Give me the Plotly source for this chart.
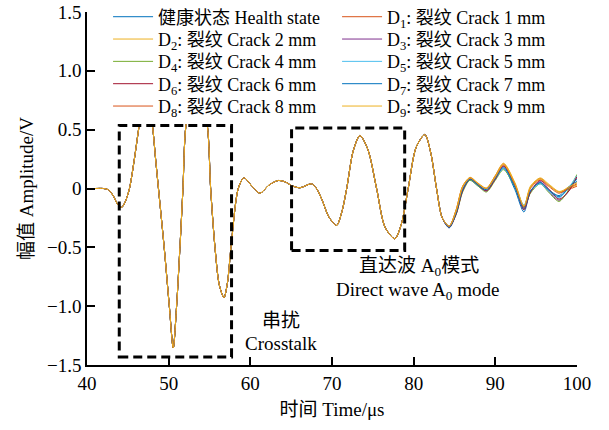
import plotly.graph_objects as go

# ---- data ----
t_common = [40, 41, 42, 42.6, 43.2, 43.8, 44.25, 44.7, 45.2, 45.8, 46.4, 47.2, 48.0, 48.4,
            48.75, 49.45, 50.08, 50.56, 50.97, 51.38, 51.75, 52.12, 53.4, 54.73, 55.14,
            55.67, 56.2, 56.77, 57.2, 57.63, 58.52, 59.22, 60.2, 61.17, 62.3, 63.42, 64.3,
            65.05, 66.07, 67.5, 68.1, 68.8, 69.6, 70.56, 71.2, 71.8, 72.6, 73.42, 74.4,
            75.46, 76.5, 77.7, 78.5, 79.33, 80.3, 81.37, 82.1, 82.8, 83.5]
v_common = [0, 0, 0, -0.01, -0.06, -0.14, -0.16, -0.11, 0.0, 0.25, 0.54, 0.85, 0.54, 0.25,
            0.0, -0.5, -1.0, -1.355, -1.0, -0.5, 0.0, 0.54, 1.0, 0.54, 0.0,
            -0.5, -0.82, -0.928, -0.80, -0.5, 0.0, 0.091, 0.02, -0.04, 0.03, 0.068, 0.055,
            0.025, 0.006, 0.04, 0.0, -0.1, -0.24, -0.314, -0.2, 0.0, 0.32, 0.45, 0.33,
            0.0, -0.33, -0.427, -0.3, 0.0, 0.35, 0.458, 0.3, 0.0, -0.25]

t_tail = [84.35, 85.2, 86.0, 86.9, 87.9, 88.9, 90.0, 91.0, 92.4, 93.5, 94.3, 95.5, 96.5, 97.8, 98.9, 100.0]
tail_health = [-0.335, -0.21, -0.01, 0.07, 0.02, -0.02, 0.08, 0.17, -0.01, -0.20, -0.03, 0.05, -0.01, -0.06, 0.01, 0.06]
tail_d1 = [-0.32, -0.18, 0.02, 0.09, 0.04, 0.0, 0.11, 0.21, 0.04, -0.16, 0.01, 0.085, 0.03, -0.03, -0.01, 0.02]
tail_d2 = [-0.32, -0.18, 0.02, 0.095, 0.045, 0.005, 0.11, 0.215, 0.05, -0.15, 0.02, 0.09, 0.04, -0.025, 0.0, 0.03]
tail_d3 = [-0.33, -0.21, -0.02, 0.08, 0.03, -0.02, 0.08, 0.19, 0.02, -0.18, -0.03, 0.06, -0.02, -0.10, -0.03, 0.10]
tail_d4 = [-0.32, -0.22, -0.03, 0.07, 0.02, -0.03, 0.07, 0.16, 0.01, -0.16, -0.04, 0.04, -0.03, -0.11, -0.02, 0.12]
tail_d5 = [-0.32, -0.2, -0.01, 0.08, 0.03, -0.01, 0.08, 0.17, 0.02, -0.14, -0.02, 0.04, -0.02, -0.08, 0.0, 0.11]
tail_d6 = [-0.33, -0.22, -0.02, 0.08, 0.03, -0.02, 0.08, 0.19, 0.03, -0.18, -0.03, 0.07, 0.0, -0.09, -0.03, 0.10]
tail_d7 = [-0.33, -0.21, -0.01, 0.08, 0.03, -0.01, 0.09, 0.18, 0.01, -0.17, -0.02, 0.05, -0.01, -0.07, 0.0, 0.08]
tail_d8 = [-0.32, -0.19, 0.01, 0.09, 0.04, 0.0, 0.10, 0.20, 0.03, -0.16, 0.0, 0.075, 0.02, -0.04, 0.0, 0.04]
tail_d9 = [-0.32, -0.19, 0.015, 0.09, 0.04, 0.0, 0.10, 0.205, 0.04, -0.15, 0.01, 0.08, 0.03, -0.03, 0.01, 0.05]

names = ["健康状态 Health state",
         "D<sub>1</sub>: 裂纹 Crack 1 mm", "D<sub>2</sub>: 裂纹 Crack 2 mm",
         "D<sub>3</sub>: 裂纹 Crack 3 mm", "D<sub>4</sub>: 裂纹 Crack 4 mm",
         "D<sub>5</sub>: 裂纹 Crack 5 mm", "D<sub>6</sub>: 裂纹 Crack 6 mm",
         "D<sub>7</sub>: 裂纹 Crack 7 mm", "D<sub>8</sub>: 裂纹 Crack 8 mm",
         "D<sub>9</sub>: 裂纹 Crack 9 mm"]
tails = [tail_health, tail_d1, tail_d2, tail_d3, tail_d4, tail_d5, tail_d6, tail_d7, tail_d8, tail_d9]
colors = ["#0072BD", "#D95319", "#EDB120", "#7E2F8E", "#77AC30",
          "#4DBEEE", "#A2142F", "#0072BD", "#D95319", "#EDB120"]

y_tickvals = [-1.5, -1.0, -0.5, 0, 0.5, 1.0, 1.5]
y_ticktext = ["−1.5", "−1.0", "−0.5", "0", "0.5", "1.0", "1.5"]
x_tickvals = [40, 50, 60, 70, 80, 90, 100]

box_crosstalk = dict(x0=43.95, x1=57.7, y0=-1.432, y1=0.535)
box_direct = dict(x0=65.05, x1=78.9, y0=-0.526, y1=0.515)

FONT = "Liberation Serif, Times New Roman, Noto Sans CJK SC, serif"

# legend rows (one small legend per row of two entries)
legend_ids = ["legend", "legend2", "legend3", "legend4", "legend5"]
row_px = [17, 39.3, 61.6, 83.9, 106.2]
PLOT_TOP, PLOT_BOTTOM = 12, 364.5

fig = go.Figure()
for i, (name, tail, col) in enumerate(zip(names, tails, colors)):
    fig.add_trace(go.Scatter(x=t_common + t_tail, y=v_common + tail, mode="lines",
                             name=name, legend=legend_ids[i // 2],
                             line=dict(color=col, width=1, shape="spline", smoothing=0.8)))

# white legend background panel (covers the area behind the legend)
fig.add_shape(type="rect", xref="paper", yref="y", x0=0.027, x1=1.0, y0=0.548, y1=1.5,
              layer="above", line=dict(width=0), fillcolor="white")

for b in (box_crosstalk, box_direct):
    fig.add_shape(type="rect", xref="x", yref="y", layer="above",
                  line=dict(color="black", width=3, dash="9px,5px"), **b)

ann_font = dict(size=19, family=FONT, color="black")
fig.add_annotation(x=63.8, y=-1.12, text="串扰", showarrow=False, xref="x", yref="y", font=ann_font)
fig.add_annotation(x=63.8, y=-1.315, text="Crosstalk", showarrow=False, xref="x", yref="y", font=ann_font)
fig.add_annotation(x=80.7, y=-0.668, text="直达波 A<sub>0</sub>模式", showarrow=False, xref="x", yref="y", font=ann_font)
fig.add_annotation(x=80.5, y=-0.874, text="Direct wave A<sub>0</sub> mode", showarrow=False, xref="x", yref="y", font=ann_font)

legend_layout = {}
for lid, py in zip(legend_ids, row_px):
    legend_layout[lid] = dict(orientation="h", x=0.043, y=(PLOT_BOTTOM - py) / (PLOT_BOTTOM - PLOT_TOP),
                              xanchor="left", yanchor="middle", itemwidth=40,
                              entrywidth=174, entrywidthmode="pixels", bgcolor="rgba(0,0,0,0)",
                              font=dict(size=18, family=FONT, color="black"), traceorder="normal")

fig.update_layout(
    width=609, height=430,
    margin=dict(l=87, r=32, t=12, b=65, autoexpand=False),
    paper_bgcolor="white", plot_bgcolor="white",
    font=dict(family=FONT, size=19, color="black"),
    xaxis=dict(range=[40, 100], tickvals=x_tickvals, showline=True, linecolor="black", linewidth=1.5,
               ticks="inside", ticklen=8, tickwidth=1.5, tickcolor="black", mirror=False,
               showgrid=False, zeroline=False, tickfont=dict(size=19),
               title=dict(text="时间 Time/μs", standoff=10, font=dict(size=19, family=FONT))),
    yaxis=dict(range=[-1.5, 1.5], tickvals=y_tickvals, ticktext=y_ticktext, showline=True,
               linecolor="black", linewidth=1.5, ticks="inside", ticklen=8, tickwidth=1.5,
               tickcolor="black", mirror=False, showgrid=False, zeroline=False, tickfont=dict(size=19),
               title=dict(text="幅值 Amplitude/V", standoff=8, font=dict(size=19, family=FONT))),
    **legend_layout,
)

fig.write_html("out.html")
